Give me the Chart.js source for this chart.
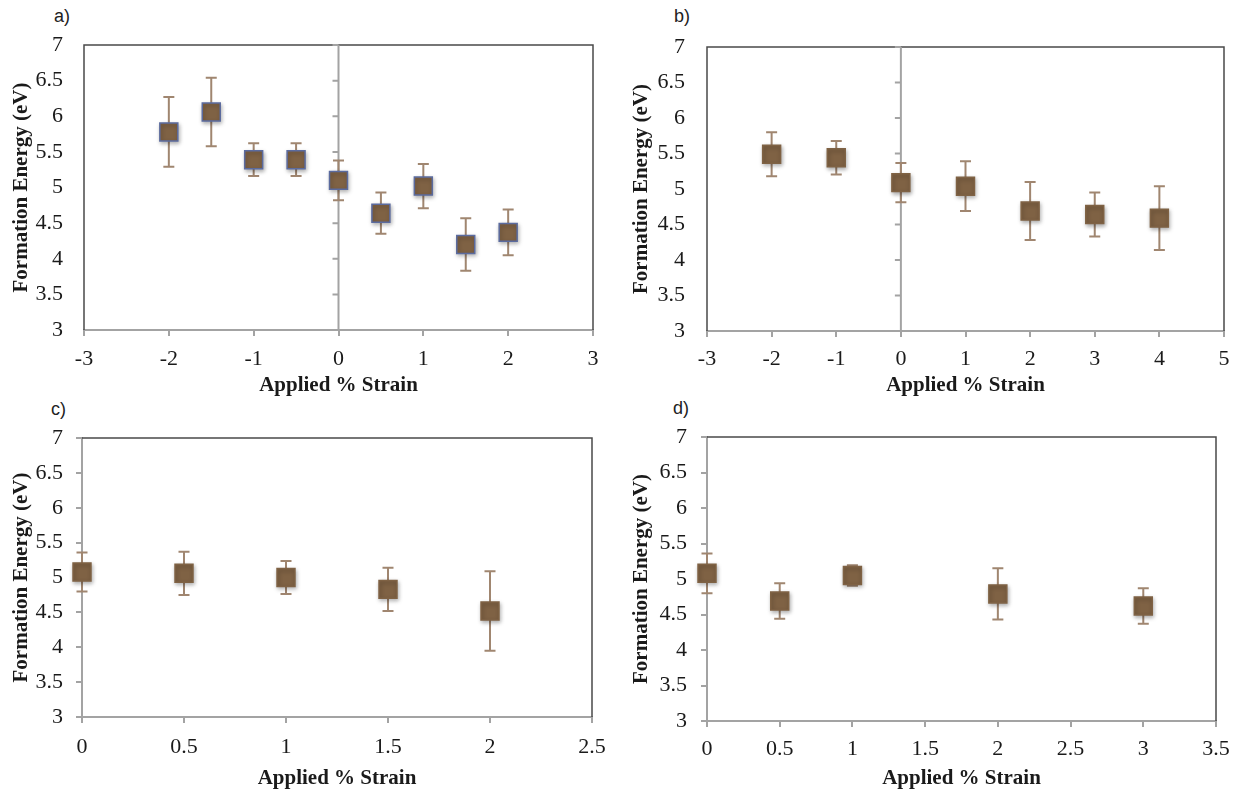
<!DOCTYPE html>
<html>
<head>
<meta charset="utf-8">
<script src="https://cdn.jsdelivr.net/npm/chart.js@4.4.1/dist/chart.umd.min.js"></script>
<style>
  html, body { margin: 0; padding: 0; background: #fff; }
  body { width: 1240px; height: 795px; position: relative; overflow: hidden; }
  .panel { position: absolute; }
  .tag { position: absolute; font: 18px "Liberation Sans", Arial, sans-serif; color: #222; }
</style>
</head>
<body>
<div class="tag" style="left:54px;top:6px">a)</div>
<div class="tag" style="left:674px;top:6px">b)</div>
<div class="tag" style="left:51px;top:399px">c)</div>
<div class="tag" style="left:673px;top:398px">d)</div>

<div class="panel" style="left:0;top:0;width:620px;height:398px"><canvas id="chartA"></canvas></div>
<div class="panel" style="left:620px;top:0;width:620px;height:398px"><canvas id="chartB"></canvas></div>
<div class="panel" style="left:0;top:395px;width:620px;height:396px"><canvas id="chartC"></canvas></div>
<div class="panel" style="left:620px;top:395px;width:620px;height:396px"><canvas id="chartD"></canvas></div>

<script>
// ─── data ────────────────────────────────────────────────────────────────────
const strainA = [-2, -1.5, -1, -0.5, 0, 0.5, 1, 1.5, 2];
const energyA = [5.78, 6.06, 5.39, 5.39, 5.10, 4.64, 5.02, 4.20, 4.37];
const errA    = [0.49, 0.48, 0.23, 0.23, 0.28, 0.29, 0.31, 0.37, 0.32];

const strainB = [-2, -1, 0, 1, 2, 3, 4];
const energyB = [5.49, 5.44, 5.09, 5.04, 4.69, 4.64, 4.59];
const errB    = [0.31, 0.235, 0.275, 0.35, 0.41, 0.31, 0.45];

const strainC = [0, 0.5, 1, 1.5, 2];
const energyC = [5.08, 5.06, 5.00, 4.83, 4.52];
const errC    = [0.28, 0.31, 0.235, 0.31, 0.57];

const strainD = [0, 0.5, 1, 2, 3];
const energyD = [5.08, 4.69, 5.05, 4.79, 4.62];
const errD    = [0.28, 0.25, 0.145, 0.36, 0.25];

const yTicks = [3, 3.5, 4, 4.5, 5, 5.5, 6, 6.5, 7];

const SERIF   = '"Liberation Serif", "DejaVu Serif", serif';
const BROWN   = '#7f6244';
const ERR_COL = '#a08670';
const FRAME   = '#4a4a4a';
const AXIS    = '#a3a3a3';

// ─── plugins ─────────────────────────────────────────────────────────────────
// plot frame, zero line with its ticks, then error bars (under the markers)
const decor = {
  id: 'decor',
  beforeDatasetsDraw(chart, args, o) {
    const { ctx, chartArea: a, scales: { x, y } } = chart;
    ctx.save();
    ctx.strokeStyle = FRAME;
    ctx.lineWidth = 1.5;
    ctx.beginPath();
    if (o.leftFrame) { ctx.moveTo(a.left, a.bottom); ctx.lineTo(a.left, a.top); }
    else ctx.moveTo(a.left, a.top);
    ctx.lineTo(a.right, a.top);
    ctx.lineTo(a.right, a.bottom);
    ctx.stroke();

    if (o.zeroLine) {
      const x0 = x.getPixelForValue(0);
      ctx.strokeStyle = AXIS;
      ctx.lineWidth = 2;
      ctx.beginPath();
      ctx.moveTo(x0, a.top); ctx.lineTo(x0, a.bottom);
      yTicks.forEach(v => {
        const py = y.getPixelForValue(v);
        ctx.moveTo(x0 - 6, py); ctx.lineTo(x0, py);
      });
      ctx.stroke();
    }

    ctx.strokeStyle = ERR_COL;
    ctx.lineWidth = 2;
    const ds = chart.data.datasets[0];
    ds.data.forEach((p, i) => {
      const px = x.getPixelForValue(p.x);
      const top = y.getPixelForValue(p.y + o.err[i]);
      const bot = y.getPixelForValue(p.y - o.err[i]);
      ctx.beginPath();
      ctx.moveTo(px, top); ctx.lineTo(px, bot);
      ctx.moveTo(px - 5.5, top); ctx.lineTo(px + 5.5, top);
      ctx.moveTo(px - 5.5, bot); ctx.lineTo(px + 5.5, bot);
      ctx.stroke();
    });
    ctx.restore();
  },
  beforeDatasetDraw(chart) {
    const ctx = chart.ctx;
    ctx.shadowColor = 'rgba(0,0,0,0.3)';
    ctx.shadowBlur = 4;
    ctx.shadowOffsetX = 1;
    ctx.shadowOffsetY = 2;
  },
  afterDatasetDraw(chart) {
    const ctx = chart.ctx;
    ctx.shadowColor = 'rgba(0,0,0,0)';
    ctx.shadowBlur = 0;
    ctx.shadowOffsetX = 0;
    ctx.shadowOffsetY = 0;
  },
};

const plain = v => String(+v.toFixed(2));

// ─── one panel ───────────────────────────────────────────────────────────────
function renderPanel(id, xs, ys, errs, cfg) {
  const yAtLeft = !cfg.zeroLine;   // c, d: the y axis sits on the left edge
  new Chart(document.getElementById(id), {
    type: 'scatter',
    data: {
      datasets: [{
        data: xs.map((v, i) => ({ x: v, y: ys[i] })),
        pointStyle: 'rect',
        pointRadius: 12.7,
        pointHoverRadius: 12.7,
        backgroundColor: BROWN,
        borderColor: cfg.edge,
        borderWidth: 1.5,
        clip: false,
      }],
    },
    plugins: [decor],
    options: {
      responsive: true, maintainAspectRatio: false, animation: false,
      events: [],
      layout: { padding: { left: 0, top: cfg.top, right: cfg.right, bottom: 0 } },
      plugins: {
        legend: { display: false }, tooltip: { enabled: false },
        decor: { err: errs, zeroLine: cfg.zeroLine, leftFrame: !yAtLeft },
      },
      scales: {
        x: {
          type: 'linear', min: cfg.xMin, max: cfg.xMax,
          afterFit: s => { s.height = cfg.xH; },
          ticks: { stepSize: cfg.xStep, color: '#1a1a1a', padding: cfg.xPad, maxRotation: 0,
                   font: { family: SERIF, size: 22 }, callback: plain },
          grid: { drawOnChartArea: false, drawTicks: true, tickLength: 6, color: AXIS, lineWidth: 2 },
          border: { display: true, color: AXIS, width: 2 },
          title: { display: true, text: 'Applied % Strain', color: '#1a1a1a',
                   font: { family: SERIF, size: 21, weight: 'bold' }, padding: 0 },
        },
        y: {
          type: 'linear', min: 3, max: 7,
          afterFit: s => { s.width = cfg.yW; },
          ticks: { stepSize: 0.5, color: '#1a1a1a', padding: cfg.yPad,
                   font: { family: SERIF, size: 22 }, callback: plain },
          grid: { drawOnChartArea: false, drawTicks: yAtLeft, tickLength: 6, color: AXIS, lineWidth: 2 },
          border: { display: yAtLeft, color: AXIS, width: 2 },
          title: { display: true, text: 'Formation Energy (eV)', color: '#1a1a1a',
                   font: { family: SERIF, size: 21, weight: 'bold' }, padding: { top: 9, bottom: 0 } },
        },
      },
    },
  });
}

renderPanel('chartA', strainA, energyA, errA,
  { xMin: -3, xMax: 3, xStep: 1, zeroLine: true, edge: '#5b6b9f',
    top: 45, right: 27, yW: 84, xH: 68, yPad: 21, xPad: 10 });
renderPanel('chartB', strainB, energyB, errB,
  { xMin: -3, xMax: 5, xStep: 1, zeroLine: true, edge: BROWN,
    top: 47, right: 16, yW: 87, xH: 67, yPad: 22, xPad: 9 });
renderPanel('chartC', strainC, energyC, errC,
  { xMin: 0, xMax: 2.5, xStep: 0.5, zeroLine: false, edge: BROWN,
    top: 43, right: 28, yW: 82, xH: 74, yPad: 13, xPad: 11 });
renderPanel('chartD', strainD, energyD, errD,
  { xMin: 0, xMax: 3.5, xStep: 0.5, zeroLine: false, edge: BROWN,
    top: 42, right: 24, yW: 87, xH: 70, yPad: 14, xPad: 9 });
</script>
</body>
</html>
